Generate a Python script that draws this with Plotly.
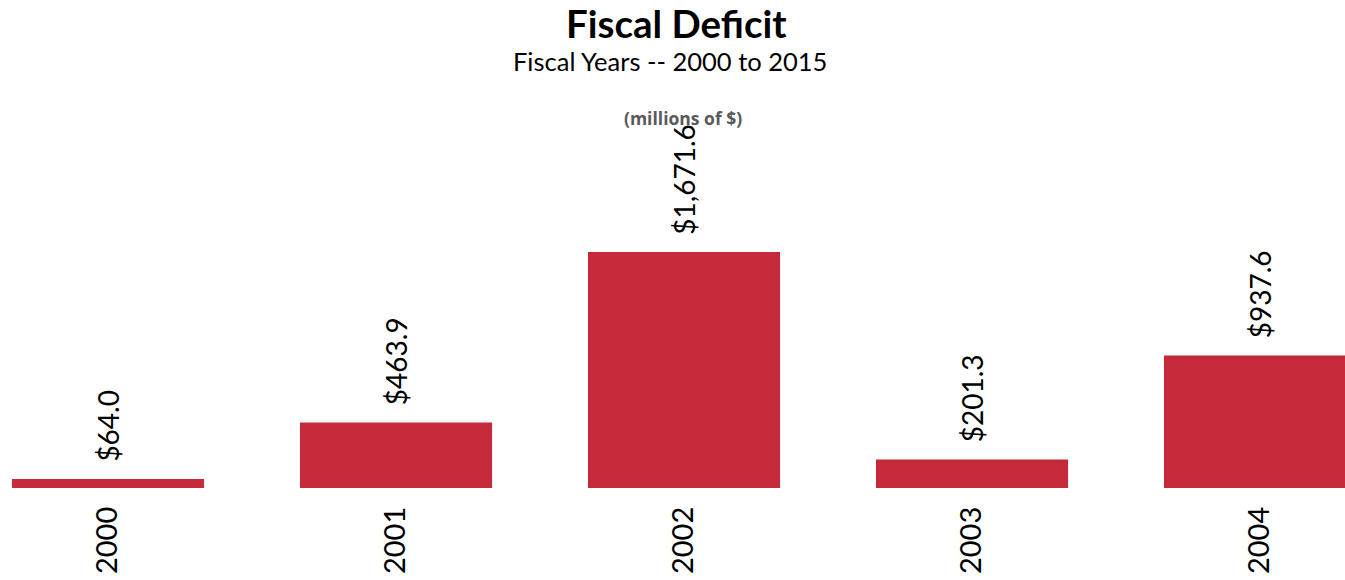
import plotly.graph_objects as go

years = ["2000", "2001", "2002", "2003", "2004"]
deficit = [64.0, 463.9, 1671.6, 201.3, 937.6]

BAR_COLOR = "#C42A3A"
FONT = "Century Gothic, Lato, sans-serif"

PLOT_TOP = 100
PLOT_BOTTOM = 488
H = 580

fig = go.Figure()
fig.add_trace(go.Bar(
    x=years,
    y=deficit,
    width=0.667,
    marker=dict(color=BAR_COLOR, line=dict(width=0)),
    # rotated value labels above each bar; the non-breaking spaces add clearance
    text=[f"\u00a0\u00a0${v:,.1f}" for v in deficit],
    textposition="outside",
    textangle=-90,
    cliponaxis=False,
    outsidetextfont=dict(family=FONT, size=28, color="#000000"),
    hoverinfo="skip",
))


def header(text, y_px, size, family=FONT, color="#000000", xshift=0):
    return dict(
        x=0.5, xref="paper", yref="paper",
        y=(PLOT_BOTTOM - y_px) / (PLOT_BOTTOM - PLOT_TOP),
        xanchor="center", yanchor="middle", xshift=xshift,
        text=text, showarrow=False,
        font=dict(family=family, size=size, color=color),
    )


fig.update_layout(
    width=1345, height=H,
    margin=dict(l=0, r=0, t=PLOT_TOP, b=H - PLOT_BOTTOM, pad=0),
    paper_bgcolor="white", plot_bgcolor="white",
    showlegend=False,
    uniformtext=dict(minsize=28, mode="show"),
    annotations=[
        header("<b>Fiscal Deficit</b>", 23, 38.5, xshift=4),
        header("Fiscal Years -- 2000 to 2015", 61, 25.5, xshift=-3),
        header("<b>(millions of $)</b>", 118, 17.5, "Open Sans, sans-serif", "#595959", xshift=10),
    ],
    xaxis=dict(
        type="category",
        range=[-0.375, 4.295],
        automargin=False,
        showgrid=False, zeroline=False, showline=False, ticks="",
        tickangle=-90,
        ticklabelstandoff=12,
        tickfont=dict(family=FONT, size=29, color="#000000"),
        fixedrange=True,
    ),
    yaxis=dict(
        range=[0, 2748],
        visible=False,
        automargin=False,
        fixedrange=True,
    ),
)

fig.write_html("out.html")
